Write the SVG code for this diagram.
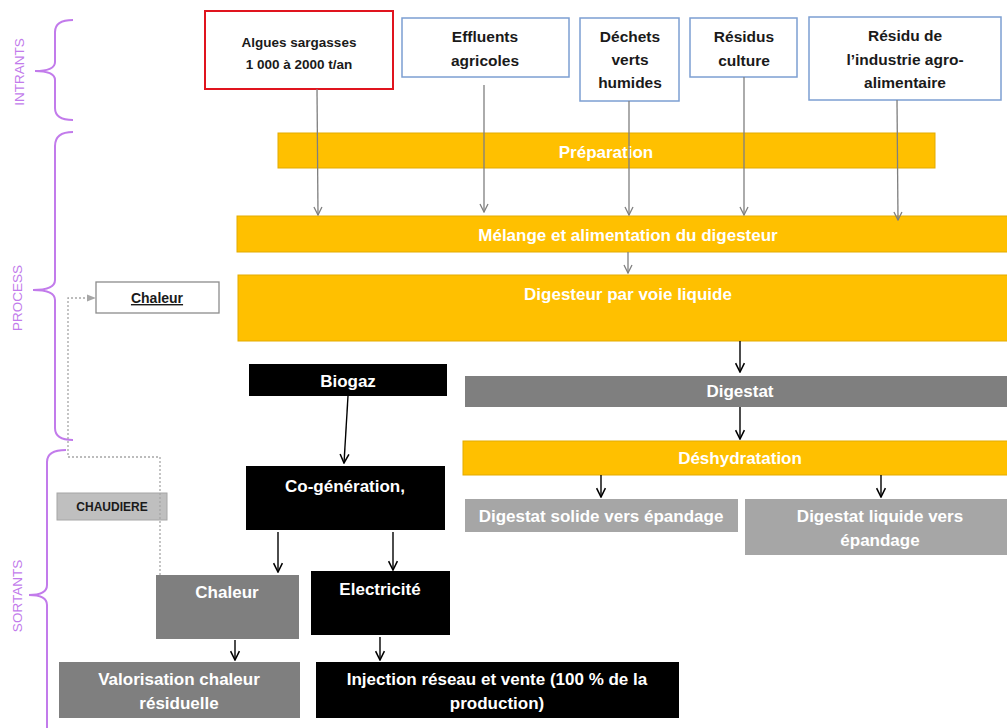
<svg xmlns="http://www.w3.org/2000/svg" width="1007" height="728" viewBox="0 0 1007 728">
<defs>
<marker id="ag" viewBox="0 0 10 10" refX="9" refY="5" markerWidth="10" markerHeight="10" markerUnits="userSpaceOnUse" orient="auto"><path d="M1,1 L9,5 L1,9" fill="none" stroke="#7F7F7F" stroke-width="1.3"/></marker>
<marker id="ak" viewBox="0 0 10 10" refX="9" refY="5" markerWidth="11" markerHeight="11" markerUnits="userSpaceOnUse" orient="auto"><path d="M1,1 L9,5 L1,9" fill="none" stroke="#000" stroke-width="1.4"/></marker>
<marker id="ad" viewBox="0 0 10 10" refX="9" refY="5" markerWidth="9" markerHeight="9" markerUnits="userSpaceOnUse" orient="auto"><path d="M0,1 L10,5 L0,9 Z" fill="#A6A6A6"/></marker>
</defs>
<style>
text{font-family:"Liberation Sans",Arial,sans-serif;font-weight:bold;text-anchor:middle}
.w{fill:#fff;font-size:17px}
.in{fill:#1a1a1a;font-size:15.5px}
.yel{fill:#FFC000;stroke:#E3AB00;stroke-width:1}
.dg{fill:#7F7F7F}
.lg{fill:#A6A6A6}
.blk{fill:#000}
.blue{fill:#fff;stroke:#7C9FD2;stroke-width:1.5}
.brace{fill:none;stroke:#C27BEB;stroke-width:2}
.lab{fill:#C27BEB;font-weight:normal;font-size:13.5px}
.cg{stroke:#7F7F7F;stroke-width:1.3;fill:none;marker-end:url(#ag)}
.ck{stroke:#000;stroke-width:1.4;fill:none;marker-end:url(#ak)}
</style>
<rect width="1007" height="728" fill="#fff"/>

<g id="braces">
<path class="brace" d="M73,20 Q55,20 55,32 L55,62 Q55,71 35,71 Q55,71 55,80 L55,108 Q55,120 73,120"/>
<text class="lab" transform="translate(24,72) rotate(-90)">INTRANTS</text>
<path class="brace" d="M73,132 Q55,132 55,146 L55,280 Q55,290 33,290 Q55,290 55,300 L55,428 Q55,440 73,440"/>
<text class="lab" transform="translate(22,298) rotate(-90)">PROCESS</text>
<path class="brace" d="M66,450 Q47,450 47,462 L47,585 Q47,595 29,595 Q47,595 47,605 L47,728"/>
<text class="lab" transform="translate(22,596) rotate(-90)">SORTANTS</text>
</g>

<g id="n-algues">
<rect x="205" y="11" width="188" height="78" fill="#fff" stroke="#E0141E" stroke-width="2"/>
<text x="299" y="47" style="fill:#1a1a1a;font-size:13.5px">Algues sargasses</text>
<text x="299" y="69" style="fill:#1a1a1a;font-size:13.5px">1 000 à 2000 t/an</text>
</g>
<g id="n-effluents">
<rect class="blue" x="402" y="18" width="167" height="59"/>
<text class="in" x="485" y="42">Effluents</text>
<text class="in" x="485" y="66">agricoles</text>
</g>
<g id="n-dechets">
<rect class="blue" x="580" y="18" width="99" height="83"/>
<text class="in" x="630" y="42">Déchets</text>
<text class="in" x="630" y="65">verts</text>
<text class="in" x="630" y="88">humides</text>
</g>
<g id="n-residus">
<rect class="blue" x="690" y="18" width="107" height="59"/>
<text class="in" x="744" y="42">Résidus</text>
<text class="in" x="744" y="66">culture</text>
</g>
<g id="n-industrie">
<rect class="blue" x="809" y="17" width="192" height="83"/>
<text class="in" x="905" y="41">Résidu de</text>
<text class="in" x="905" y="65">l’industrie agro-</text>
<text class="in" x="905" y="88">alimentaire</text>
</g>

<g id="n-preparation">
<rect class="yel" x="278" y="133" width="657" height="35"/>
<text class="w" x="606" y="158">Préparation</text>
</g>
<g id="n-melange">
<rect class="yel" x="237" y="216" width="775" height="36"/>
<text class="w" x="628" y="241">Mélange et alimentation du digesteur</text>
</g>
<g id="n-digesteur">
<rect class="yel" x="238" y="275" width="775" height="66"/>
<text class="w" x="628" y="300">Digesteur  par voie liquide</text>
</g>

<g id="n-chaleur-process">
<rect x="96" y="282" width="123" height="31" fill="#fff" stroke="#8C8C8C" stroke-width="1.3"/>
<text x="157" y="303" style="fill:#1a1a1a;font-size:14px;text-decoration:underline">Chaleur</text>
</g>

<g id="n-biogaz">
<rect class="blk" x="249" y="364" width="198" height="32"/>
<text class="w" x="348" y="387">Biogaz</text>
</g>
<g id="n-digestat">
<rect class="dg" x="465" y="376" width="545" height="31"/>
<text class="w" x="740" y="397">Digestat</text>
</g>
<g id="n-deshydratation">
<rect class="yel" x="463" y="441" width="547" height="34"/>
<text class="w" x="740" y="464">Déshydratation</text>
</g>
<g id="n-solide">
<rect class="lg" x="465" y="499" width="273" height="33"/>
<text class="w" x="601" y="522">Digestat solide vers épandage</text>
</g>
<g id="n-liquide">
<rect class="lg" x="745" y="499" width="265" height="56"/>
<text class="w" x="880" y="522">Digestat liquide vers</text>
<text class="w" x="880" y="546">épandage</text>
</g>
<g id="n-chaudiere">
<rect x="57" y="493" width="110" height="27" fill="#BFBFBF" stroke="#A6A6A6" stroke-width="1"/>
<text x="112" y="511" style="fill:#1a1a1a;font-size:12px">CHAUDIERE</text>
</g>
<g id="n-cogeneration">
<rect class="blk" x="246" y="466" width="199" height="64"/>
<text class="w" x="345" y="492">Co-génération,</text>
</g>
<g id="n-chaleur">
<rect class="dg" x="156" y="575" width="143" height="64"/>
<text class="w" x="227" y="598">Chaleur</text>
</g>
<g id="n-electricite">
<rect class="blk" x="311" y="571" width="139" height="64"/>
<text class="w" x="380" y="595">Electricité</text>
</g>
<g id="n-valorisation">
<rect class="dg" x="59" y="662" width="241" height="56"/>
<text class="w" x="179" y="685">Valorisation  chaleur</text>
<text class="w" x="179" y="709">résiduelle</text>
</g>
<g id="n-injection">
<rect class="blk" x="316" y="662" width="363" height="56"/>
<text class="w" x="497" y="685">Injection  réseau et vente (100 % de la</text>
<text class="w" x="497" y="709">production)</text>
</g>

<g id="connectors">
<line class="cg" x1="317" y1="89" x2="318" y2="215"/>
<line class="cg" x1="484" y1="85" x2="484" y2="212"/>
<line class="cg" x1="629" y1="101" x2="629" y2="215"/>
<line class="cg" x1="744" y1="77" x2="744" y2="215"/>
<line class="cg" x1="897" y1="100" x2="898" y2="220"/>
<line class="cg" x1="628" y1="252" x2="628" y2="273"/>
<line class="ck" x1="740" y1="341" x2="740" y2="372"/>
<line class="ck" x1="740" y1="407" x2="740" y2="439"/>
<line class="ck" x1="601" y1="475" x2="601" y2="497"/>
<line class="ck" x1="881" y1="475" x2="881" y2="497"/>
<line class="ck" x1="348" y1="396" x2="344" y2="463"/>
<line class="ck" x1="278" y1="532" x2="278" y2="572"/>
<line class="ck" x1="393" y1="532" x2="393" y2="570"/>
<line class="ck" x1="235" y1="640" x2="235" y2="660"/>
<line class="ck" x1="380" y1="637" x2="380" y2="660"/>
<polyline points="160,575 160,457 68,457 68,298 95,298" fill="none" stroke="#A6A6A6" stroke-width="1.3" stroke-dasharray="2,2" marker-end="url(#ad)"/>
</g>
</svg>
